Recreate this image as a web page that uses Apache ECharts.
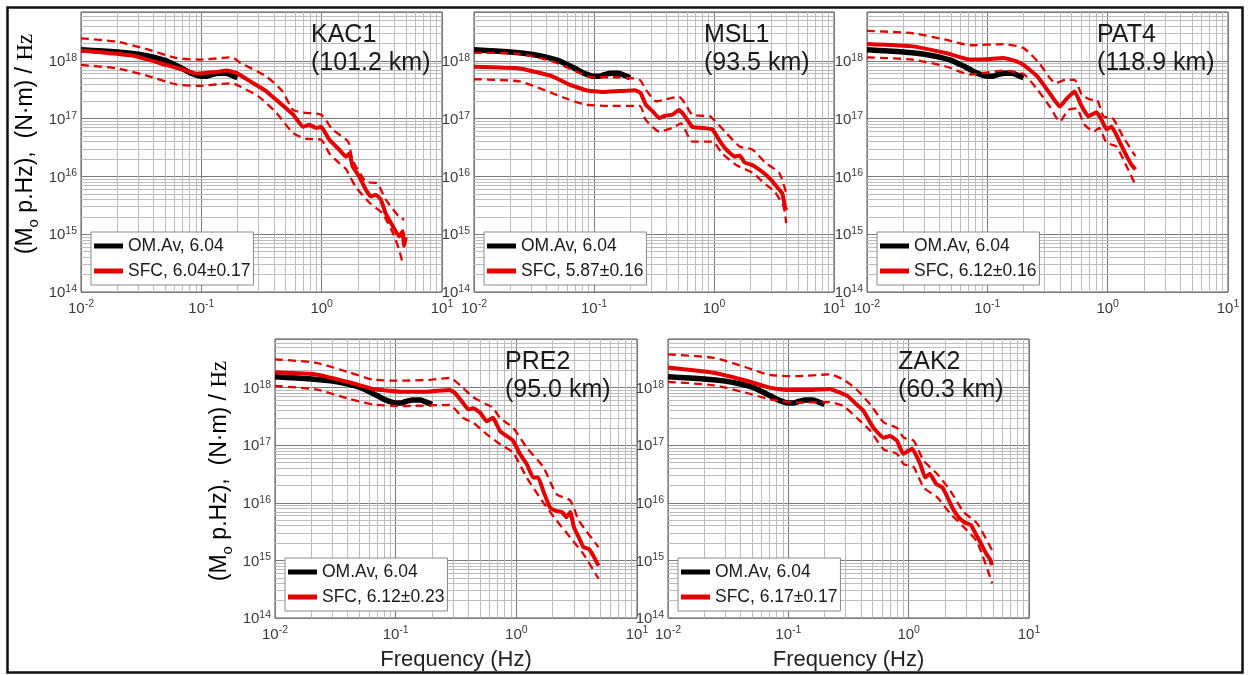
<!DOCTYPE html>
<html>
<head>
<meta charset="utf-8">
<script src="https://cdn.jsdelivr.net/npm/echarts@6/dist/echarts.min.js"></script>
<style>
  html, body { margin: 0; padding: 0; background: #fff; }
  #chart { width: 1248px; height: 675px; }
</style>
</head>
<body>
<div id="chart"></div>
<script>
// axis ticks
const xTicks = [0.01, 0.1, 1, 10];
const yTicks = [1e14, 1e15, 1e16, 1e17, 1e18];

// OM.Av reference spectrum (same in every panel)
const omAvF = [0.01, 0.02, 0.03, 0.04, 0.05, 0.06, 0.07, 0.08, 0.09, 0.1, 0.11, 0.12, 0.14, 0.16, 0.18, 0.2];
const omAvM = [1.55e18, 1.42e18, 1.3e18, 1.16e18, 1.02e18, 8.6e17, 7.3e17, 6.3e17, 5.7e17, 5.4e17, 5.4e17, 5.7e17, 6.1e17, 6.1e17, 5.6e17, 5.1e17];

// KAC1
const kac1F = [0.01, 0.027, 0.051, 0.075, 0.091, 0.11, 0.14, 0.16, 0.195, 0.27, 0.345, 0.45, 0.58, 0.7, 0.79, 0.9, 0.99, 1.16, 1.4, 1.59, 1.7, 1.81, 2.05, 2.33, 2.57, 2.82, 3.1, 3.4, 3.9, 4.4, 4.7, 4.85, 5.0];
const kac1M = [1.51e18, 1.23e18, 8.5e17, 6.8e17, 6.0e17, 6.2e17, 6.5e17, 6.8e17, 6.2e17, 4.1e17, 3.0e17, 1.86e17, 1.17e17, 7.2e16, 7.8e16, 6.9e16, 7.2e16, 4.3e16, 2.9e16, 2.2e16, 2.5e16, 1.48e16, 1.0e16, 5.9e15, 4.5e15, 4.8e15, 4.0e15, 2.3e15, 1.38e15, 9.1e14, 1.12e15, 6.3e14, 8.9e14];
const kac1HiF = [0.01, 0.02, 0.037, 0.062, 0.097, 0.18, 0.21, 0.345, 0.47, 0.58, 0.74, 0.99, 1.23, 1.66, 1.8, 2.33, 2.9, 3.4, 4.4, 4.85];
const kac1Hi = [2.45e18, 2.14e18, 1.55e18, 1.12e18, 1.05e18, 1.15e18, 9.3e17, 5.4e17, 3.0e17, 1.41e17, 1.26e17, 1.17e17, 6.5e16, 4.0e16, 1.95e16, 8.1e15, 7.6e15, 4.0e15, 2.0e15, 1.78e15];
const kac1LoF = [0.01, 0.02, 0.037, 0.062, 0.097, 0.18, 0.21, 0.3, 0.42, 0.58, 0.74, 0.99, 1.16, 1.4, 1.6, 1.9, 2.5, 3.2, 3.9, 4.4, 4.7];
const kac1Lo = [8.5e17, 7.4e17, 5.4e17, 3.9e17, 3.7e17, 4.1e17, 3.6e17, 2.4e17, 1.26e17, 5.6e16, 4.5e16, 4.3e16, 2.5e16, 1.7e16, 1.32e16, 6.8e15, 3.5e15, 2.3e15, 1.05e15, 5.4e14, 3.2e14];

// MSL1
const msl1F = [0.01, 0.024, 0.045, 0.062, 0.086, 0.118, 0.162, 0.22, 0.245, 0.27, 0.31, 0.35, 0.39, 0.45, 0.51, 0.56, 0.66, 0.8, 0.97, 1.1, 1.27, 1.49, 1.64, 1.8, 2.07, 2.3, 2.6, 3.0, 3.3, 3.7, 3.9, 4.0];
const msl1M = [7.9e17, 7.4e17, 5.4e17, 3.9e17, 3.1e17, 2.9e17, 3.0e17, 3.1e17, 2.75e17, 1.74e17, 1.32e17, 1.02e17, 1.12e17, 1.17e17, 1.41e17, 1.17e17, 7.2e16, 6.9e16, 6.5e16, 4.3e16, 2.9e16, 2.2e16, 2.3e16, 1.74e16, 1.58e16, 1.38e16, 1.15e16, 8.7e15, 6.8e15, 5.1e15, 3.0e15, 2.6e15];
const msl1HiF = [0.01, 0.024, 0.045, 0.062, 0.097, 0.162, 0.24, 0.27, 0.33, 0.43, 0.51, 0.57, 0.66, 0.92, 1.0, 1.27, 1.64, 2.1, 2.7, 3.5, 4.0];
const msl1Hi = [1.38e18, 1.32e18, 9.8e17, 7.4e17, 5.2e17, 5.2e17, 4.7e17, 3.2e17, 2.0e17, 2.24e17, 2.4e17, 1.86e17, 1.17e17, 1.1e17, 9.5e16, 5.6e16, 3.3e16, 2.9e16, 1.7e16, 1.15e16, 5.1e15];
const msl1LoF = [0.01, 0.024, 0.045, 0.062, 0.086, 0.13, 0.24, 0.27, 0.35, 0.45, 0.53, 0.66, 0.97, 1.17, 1.53, 2.1, 2.7, 3.2, 3.8, 4.0];
const msl1Lo = [4.8e17, 4.4e17, 2.75e17, 2.14e17, 1.74e17, 1.66e17, 1.66e17, 9.5e16, 6.0e16, 6.9e16, 8.3e16, 4.0e16, 4.0e16, 2.5e16, 1.58e16, 1.15e16, 7.2e15, 5.5e15, 3.0e15, 1.55e15];

// PAT4
const pat4F = [0.01, 0.024, 0.046, 0.072, 0.099, 0.136, 0.175, 0.2, 0.26, 0.33, 0.4, 0.45, 0.53, 0.61, 0.69, 0.81, 0.89, 0.98, 1.08, 1.27, 1.44, 1.58, 1.7];
const pat4M = [1.95e18, 1.78e18, 1.35e18, 1.05e18, 1.07e18, 1.12e18, 9.8e17, 8.5e17, 5.4e17, 2.75e17, 1.62e17, 2.14e17, 2.95e17, 1.62e17, 1.1e17, 1.29e17, 9.5e16, 6.5e16, 7.2e16, 3.8e16, 2.24e16, 1.58e16, 1.32e16];
const pat4HiF = [0.01, 0.024, 0.046, 0.072, 0.136, 0.2, 0.27, 0.37, 0.45, 0.53, 0.61, 0.72, 0.81, 0.92, 1.1, 1.34, 1.7];
const pat4Hi = [3.3e18, 3.0e18, 2.3e18, 1.86e18, 1.95e18, 1.66e18, 9.1e17, 4.1e17, 4.7e17, 4.7e17, 2.6e17, 2.14e17, 2.14e17, 1.1e17, 1.02e17, 4.9e16, 2.24e16];
const pat4LoF = [0.01, 0.024, 0.046, 0.072, 0.099, 0.136, 0.2, 0.26, 0.33, 0.4, 0.47, 0.55, 0.64, 0.77, 0.85, 0.98, 1.18, 1.44, 1.7];
const pat4Lo = [1.15e18, 1.05e18, 7.9e17, 5.8e17, 6.3e17, 6.8e17, 5.9e17, 3.2e17, 1.62e17, 8.9e16, 1.41e17, 1.51e17, 7.9e16, 6.0e16, 6.9e16, 3.8e16, 3.3e16, 1.48e16, 7.2e15];

// PRE2
const pre2F = [0.01, 0.022, 0.042, 0.065, 0.108, 0.18, 0.28, 0.31, 0.36, 0.4, 0.44, 0.5, 0.57, 0.64, 0.73, 0.83, 0.94, 1.07, 1.22, 1.38, 1.52, 1.67, 1.9, 2.16, 2.4, 2.6, 2.8, 3.0, 3.3, 3.6, 4.0, 4.4, 4.8];
const pre2M = [1.86e18, 1.7e18, 1.23e18, 9.5e17, 8.5e17, 8.5e17, 9.1e17, 8.1e17, 5.5e17, 4.2e17, 4.4e17, 3.7e17, 2.6e17, 3.0e17, 1.78e17, 1.45e17, 1.2e17, 7.1e16, 4.7e16, 2.75e16, 2.75e16, 1.62e16, 8.3e15, 7.2e15, 6.9e15, 5.6e15, 6.9e15, 3.8e15, 2.5e15, 1.7e15, 1.58e15, 1.15e15, 8.1e14];
const pre2HiF = [0.01, 0.022, 0.042, 0.065, 0.108, 0.2, 0.28, 0.36, 0.44, 0.57, 0.64, 0.73, 0.94, 1.22, 1.67, 2.16, 2.8, 3.3, 4.8];
const pre2Hi = [3.1e18, 2.7e18, 1.82e18, 1.38e18, 1.32e18, 1.38e18, 1.48e18, 1.0e18, 6.8e17, 5.1e17, 4.5e17, 3.0e17, 2.0e17, 9.1e16, 4.2e16, 1.41e16, 1.1e16, 4.9e15, 1.7e15];
const pre2LoF = [0.01, 0.022, 0.042, 0.065, 0.108, 0.28, 0.36, 0.44, 0.57, 0.73, 0.94, 1.22, 1.67, 2.16, 2.8, 3.6, 4.8];
const pre2Lo = [1.07e18, 9.3e17, 6.3e17, 5.1e17, 4.8e17, 5.0e17, 3.0e17, 2.45e17, 1.55e17, 1.05e17, 7.4e16, 2.75e16, 1.02e16, 4.9e15, 2.5e15, 1.29e15, 4.8e14];

// ZAK2
const zak2F = [0.01, 0.024, 0.045, 0.07, 0.097, 0.15, 0.22, 0.25, 0.31, 0.37, 0.42, 0.51, 0.62, 0.7, 0.8, 0.9, 1.07, 1.25, 1.37, 1.5, 1.7, 1.9, 2.1, 2.3, 2.6, 2.9, 3.3, 3.6, 4.0, 4.4, 4.8, 4.9];
const zak2M = [2.24e18, 1.82e18, 1.32e18, 1.0e18, 9.1e17, 9.1e17, 9.5e17, 8.7e17, 7.2e17, 5.1e17, 4.0e17, 2.0e17, 1.35e17, 1.45e17, 1.2e17, 7.1e16, 8.7e16, 4.7e16, 2.75e16, 3.2e16, 2.1e16, 1.86e16, 1.26e16, 8.3e15, 5.6e15, 4.6e15, 4.1e15, 2.9e15, 1.95e15, 1.32e15, 1.0e15, 8.3e14];
const zak2BandF = [0.01, 0.024, 0.045, 0.07, 0.117, 0.22, 0.287, 0.37, 0.48, 0.62, 0.8, 0.91, 1.1, 1.33, 1.72, 2.22, 2.87, 3.7, 4.95];
const zak2Hi = [3.8e18, 3.3e18, 2.24e18, 1.66e18, 1.58e18, 1.7e18, 1.38e18, 9.3e17, 5.1e17, 2.5e17, 2.0e17, 1.35e17, 1.2e17, 5.4e16, 3.2e16, 1.62e16, 6.9e15, 4.4e15, 1.48e15];
const zak2Lo = [1.26e18, 1.1e18, 8.1e17, 6.3e17, 5.5e17, 5.6e17, 4.8e17, 3.0e17, 1.78e17, 8.5e16, 7.1e16, 4.7e16, 4.2e16, 1.86e16, 1.26e16, 6.5e15, 3.8e15, 2.1e15, 4.0e14];

const FONT = 'Liberation Sans, Arial, sans-serif';
const RED = '#e40000';
const OM_NAME = 'OM.Av, 6.04';

const stations = [
  { id: 'KAC1', dist: '(101.2 km)', sfc: 'SFC, 6.04\u00b10.17', f: kac1F, m: kac1M, hiF: kac1HiF, hi: kac1Hi, loF: kac1LoF, lo: kac1Lo },
  { id: 'MSL1', dist: '(93.5 km)', sfc: 'SFC, 5.87\u00b10.16', f: msl1F, m: msl1M, hiF: msl1HiF, hi: msl1Hi, loF: msl1LoF, lo: msl1Lo },
  { id: 'PAT4', dist: '(118.9 km)', sfc: 'SFC, 6.12\u00b10.16', f: pat4F, m: pat4M, hiF: pat4HiF, hi: pat4Hi, loF: pat4LoF, lo: pat4Lo },
  { id: 'PRE2', dist: '(95.0 km)', sfc: 'SFC, 6.12\u00b10.23', f: pre2F, m: pre2M, hiF: pre2HiF, hi: pre2Hi, loF: pre2LoF, lo: pre2Lo },
  { id: 'ZAK2', dist: '(60.3 km)', sfc: 'SFC, 6.17\u00b10.17', f: zak2F, m: zak2M, hiF: zak2BandF, hi: zak2Hi, loF: zak2BandF, lo: zak2Lo }
];

// panel layout (pixels)
const layout = [
  { left: 81, top: 12, width: 361, height: 280, titleX: 311, yTitle: true, xTitle: false },
  { left: 474, top: 12, width: 360, height: 280, titleX: 704, yTitle: false, xTitle: false },
  { left: 867, top: 12, width: 361, height: 280, titleX: 1097, yTitle: false, xTitle: false },
  { left: 275, top: 339, width: 362, height: 279, titleX: 505, yTitle: true, xTitle: true },
  { left: 668, top: 339, width: 361, height: 279, titleX: 898, yTitle: false, xTitle: true }
];

const Y_MAX = 7e18;

// minor log grid positions (2..9 x 10^n)
const minorX = [];
for (let e = -2; e < 1; e++) for (let k = 2; k < 10; k++) minorX.push(k * Math.pow(10, e));
const minorY = [];
for (let e = 14; e <= 18; e++) for (let k = 2; k < 10; k++) if (k * Math.pow(10, e) < Y_MAX) minorY.push(k * Math.pow(10, e));

function pairs(f, m) { return f.map((x, i) => [x, m[i]]); }

function powLabel(v) {
  const e = Math.round(Math.log10(v));
  return '{b|10}{s|' + e + '}';
}
const powRich = {
  b: { fontSize: 15, color: '#3a3a3a', fontFamily: FONT, verticalAlign: 'bottom' },
  s: { fontSize: 10.5, color: '#3a3a3a', fontFamily: FONT, verticalAlign: 'bottom', padding: [0, 0, 6, 0] }
};

var chart = echarts.init(document.getElementById('chart'));

const grid = [], xAxis = [], yAxis = [], series = [], title = [], legend = [];
const graphic = [];

stations.forEach(function (st, i) {
  const L = layout[i];
  grid.push({
    left: L.left, top: L.top, width: L.width, height: L.height,
    show: true, borderColor: '#555', borderWidth: 1, backgroundColor: '#fff'
  });
  xAxis.push({
    type: 'log', logBase: 10, gridIndex: i, min: xTicks[0], max: xTicks[xTicks.length - 1],
    axisLine: { show: false }, axisTick: { show: false },
    splitLine: { show: true, lineStyle: { color: '#7a7a7a', width: 1 } },
    axisLabel: { margin: 7, fontSize: 15, formatter: powLabel, rich: powRich },
    name: L.xTitle ? 'Frequency (Hz)' : '',
    nameLocation: 'middle', nameGap: 31,
    nameTextStyle: { fontSize: 22, color: '#222', fontFamily: FONT }
  });
  yAxis.push({
    type: 'log', logBase: 10, gridIndex: i, min: yTicks[0], max: Y_MAX,
    axisLine: { show: false }, axisTick: { show: false },
    splitLine: { show: true, lineStyle: { color: '#7a7a7a', width: 1 } },
    axisLabel: { margin: 4, fontSize: 15, showMaxLabel: false, formatter: powLabel, rich: powRich }
  });

  // minor grid lines
  series.push({
    type: 'line', name: st.id + ' grid', xAxisIndex: i, yAxisIndex: i, data: [],
    silent: true, z: 1,
    markLine: {
      silent: true, z: 1, animation: false, symbol: ['none', 'none'],
      label: { show: false }, emphasis: { disabled: true },
      lineStyle: { color: '#bcbcbc', width: 1, type: 'solid' },
      data: minorX.map(v => ({ xAxis: v })).concat(minorY.map(v => ({ yAxis: v })))
    }
  });

  series.push({
    type: 'line', name: OM_NAME, xAxisIndex: i, yAxisIndex: i,
    data: pairs(omAvF, omAvM), showSymbol: false, symbol: 'none', smooth: 0.3, z: 3,
    lineStyle: { color: '#000', width: 5.5 }, itemStyle: { color: '#000' }
  });
  series.push({
    type: 'line', name: st.sfc, xAxisIndex: i, yAxisIndex: i,
    data: pairs(st.f, st.m), showSymbol: false, symbol: 'none', smooth: 0.12, z: 4,
    lineStyle: { color: RED, width: 4 }, itemStyle: { color: RED }
  });
  series.push({
    type: 'line', name: st.id + ' upper', xAxisIndex: i, yAxisIndex: i,
    data: pairs(st.hiF, st.hi), showSymbol: false, symbol: 'none', smooth: 0.2, z: 5,
    lineStyle: { color: RED, width: 2.3, type: [8, 5] }, itemStyle: { color: RED }
  });
  series.push({
    type: 'line', name: st.id + ' lower', xAxisIndex: i, yAxisIndex: i,
    data: pairs(st.loF, st.lo), showSymbol: false, symbol: 'none', smooth: 0.2, z: 5,
    lineStyle: { color: RED, width: 2.3, type: [8, 5] }, itemStyle: { color: RED }
  });

  title.push({
    text: st.id + '\n' + st.dist, left: L.titleX, top: L.top + 9, padding: 0,
    textStyle: { fontSize: 25, lineHeight: 28, fontWeight: 'normal', color: '#1a1a1a', fontFamily: FONT }
  });

  legend.push({
    data: [OM_NAME, st.sfc], orient: 'vertical', selectedMode: false,
    left: L.left + 10, top: L.top + L.height - 60,
    icon: 'rect', itemWidth: 29, itemHeight: 5, itemGap: 7,
    padding: [5, 3, 5, 3],
    borderColor: '#8a8a8a', borderWidth: 1, backgroundColor: '#fff',
    textStyle: { fontSize: 17.5, color: '#1a1a1a', fontFamily: FONT }
  });

  if (L.yTitle) {
    graphic.push({
      type: 'text', x: L.left - 53, y: L.top + 132, rotation: Math.PI / 2, silent: true,
      style: {
        text: '{t|(M}{o|o}{t| p.Hz),  (N\u00b7m) / }{hz|Hz}',
        align: 'center', verticalAlign: 'middle',
        rich: {
          t: { fontSize: 23, color: '#333', fontFamily: FONT, verticalAlign: 'bottom', padding: [0, 0, 4, 0] },
          o: { fontSize: 15, color: '#333', fontFamily: FONT, verticalAlign: 'bottom' },
          hz: { fontSize: 23, color: '#333', fontFamily: 'Liberation Serif, Times New Roman, serif', verticalAlign: 'bottom', padding: [0, 0, 4, 0] }
        }
      }
    });
  }
});

// outer frame
graphic.push({
  type: 'rect', silent: true, z: 100,
  shape: { x: 7.5, y: 7.5, width: 1235, height: 665 },
  style: { fill: 'none', stroke: '#111', lineWidth: 2.5 }
});

const option = {
  animation: false,
  backgroundColor: '#fff',
  title: title,
  legend: legend,
  grid: grid,
  xAxis: xAxis,
  yAxis: yAxis,
  series: series,
  graphic: graphic
};
option && chart.setOption(option);
window.addEventListener('resize', function () { chart.resize(); });
</script>
</body>
</html>
